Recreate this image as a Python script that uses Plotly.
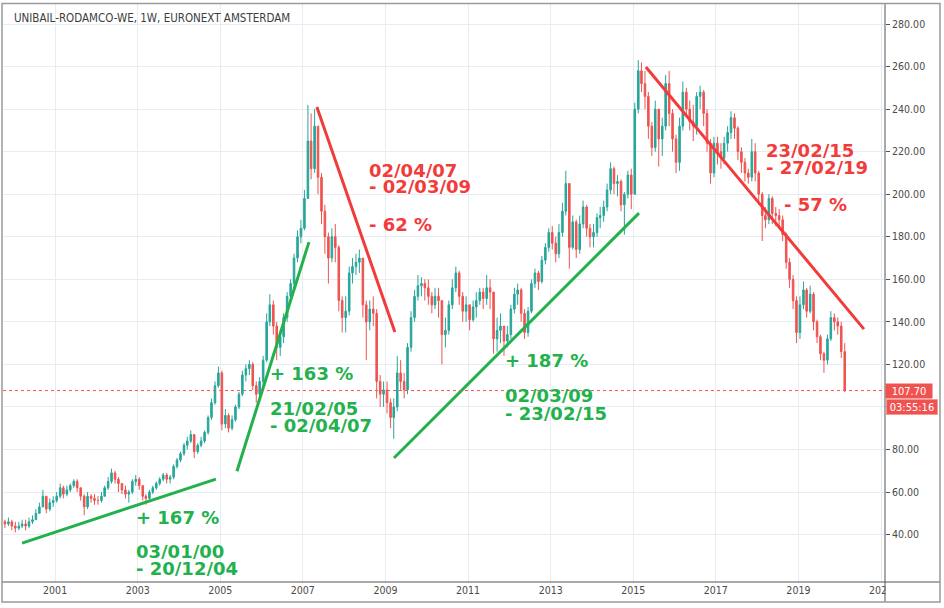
import pandas as pd
import plotly.graph_objects as go

# ---------------- data (monthly) ----------------
first_month = "1999-10-01"
first_open = 46

close = [
    45, 46, 44,
    43, 44, 45, 44, 46, 47, 50, 53, 58, 52, 55, 56,
    58, 62, 59, 61, 63, 65, 62, 58, 53, 58, 57, 56,
    56, 58, 62, 65, 69, 66, 64, 61, 59, 60, 65, 66,
    63, 58, 57, 60, 62, 64, 66, 68, 66, 67, 72, 75,
    78, 82, 84, 87, 79, 82, 84, 88, 95, 102, 110, 116,
    92, 96, 90, 94, 100, 106, 115, 118, 120, 110, 106, 112,
    122, 140, 148, 138, 128, 133, 142, 152, 158, 170, 180, 184,
    198, 225, 212, 232, 208, 192, 180, 170, 180, 175, 150, 142,
    145, 163, 166, 168, 170, 148, 140, 146, 144, 112, 106, 108,
    102, 95, 100, 116, 112, 108, 128, 142, 152, 157, 158, 156,
    152, 148, 152, 150, 134, 136, 148, 156, 163, 152, 145, 148,
    141, 147, 150, 154, 151, 156, 154, 132, 136, 138, 131, 134,
    146, 153, 155, 144, 135, 145, 158, 163, 159, 169, 175, 182,
    177, 172, 182, 192, 205, 175, 187, 174, 186, 194, 184, 180,
    182, 189, 190, 194, 202, 212, 205, 206, 195, 200, 209, 200,
    240, 258, 252, 246, 232, 222, 240, 226, 232, 252, 238, 226,
    215, 232, 248, 240, 234, 232, 246, 248, 238, 224, 210, 224,
    220, 217, 224, 229, 236, 231, 220, 215, 210, 208, 220, 210,
    200, 190, 188, 198, 191, 190, 188, 181, 168, 160, 150, 135,
    148, 155, 145, 153, 140, 133, 125, 122, 132, 142, 140, 138,
    126, 107.7,
]

high = [
    47, 48, 47,
    46, 46, 47, 47, 48, 49, 52, 55, 61, 58, 57, 58,
    60, 64, 63, 63, 64, 66, 66, 62, 59, 60, 59, 59,
    58, 60, 63, 67, 71, 70, 67, 64, 63, 61, 66, 68,
    67, 63, 59, 61, 63, 65, 67, 69, 69, 68, 73, 76,
    79, 83, 86, 89, 86, 83, 86, 89, 96, 104, 112, 119,
    117, 99, 97, 96, 101, 107, 117, 120, 122, 121, 112, 114,
    124, 144, 153, 150, 140, 136, 144, 154, 160, 172, 183, 188,
    202, 242, 238, 240, 230, 210, 195, 182, 184, 186, 176, 152,
    152, 166, 170, 172, 174, 170, 150, 150, 152, 146, 115, 112,
    112, 104, 104, 124, 122, 116, 130, 145, 155, 162, 161, 160,
    160, 154, 156, 156, 150, 142, 150, 160, 166, 164, 154, 152,
    148, 150, 154, 156, 156, 162, 160, 154, 142, 144, 138, 138,
    148, 156, 158, 156, 146, 147, 160, 165, 164, 171, 177, 184,
    185, 180, 186, 196, 211, 200, 190, 188, 190, 197, 195, 186,
    186, 191, 194, 197, 205, 215, 213, 209, 207, 201, 211, 212,
    243, 263, 262, 258, 248, 234, 244, 240, 236, 256, 258, 240,
    228, 236, 253, 250, 244, 242, 248, 251, 249, 240, 226, 227,
    227, 224, 227, 232, 239, 238, 232, 222, 217, 212, 226, 224,
    211, 201, 194, 200, 199, 194, 193, 190, 182, 170, 162, 152,
    152, 159, 156, 157, 154, 141, 134, 126, 134, 145, 144, 142,
    140, 130,
]

low = [
    43, 44, 42,
    41, 42, 43, 42, 43, 45, 47, 50, 53, 50, 51, 53,
    55, 57, 57, 58, 60, 62, 60, 56, 49, 52, 55, 54,
    54, 55, 58, 61, 64, 64, 60, 59, 57, 55, 59, 63,
    61, 56, 54, 56, 59, 61, 63, 65, 64, 64, 66, 71,
    74, 77, 80, 83, 76, 78, 81, 83, 87, 94, 101, 109,
    89, 90, 88, 89, 93, 99, 105, 112, 115, 108, 102, 105,
    110, 121, 138, 134, 122, 124, 130, 140, 150, 156, 168, 177,
    183, 198, 207, 210, 200, 186, 172, 158, 168, 168, 145, 135,
    135, 143, 158, 162, 163, 142, 122, 136, 138, 104, 100, 100,
    97, 90, 85, 98, 108, 104, 106, 126, 140, 150, 152, 150,
    148, 144, 146, 142, 120, 128, 134, 146, 154, 148, 140, 140,
    136, 140, 142, 148, 146, 148, 146, 125, 126, 130, 124, 128,
    132, 144, 148, 140, 132, 133, 144, 156, 155, 158, 167, 173,
    174, 168, 170, 180, 190, 165, 174, 170, 172, 184, 180, 175,
    175, 180, 184, 187, 192, 200, 200, 199, 192, 181, 198, 193,
    200, 238, 248, 240, 226, 218, 220, 213, 218, 230, 232, 220,
    210, 211, 230, 236, 230, 225, 228, 240, 232, 220, 205, 208,
    214, 212, 214, 220, 226, 226, 216, 210, 206, 205, 206, 206,
    195, 178, 184, 186, 186, 185, 184, 178, 165, 156, 146, 130,
    132, 146, 142, 144, 136, 130, 122, 116, 120, 131, 136, 134,
    123, 107,
]

last_price = 107.70
last_price_label = "107.70"
countdown_label = "03:55:16"
title_text = "UNIBAIL-RODAMCO-WE, 1W, EURONEXT AMSTERDAM"

y_ticks = [40, 60, 80, 100, 120, 140, 160, 180, 200, 220, 240, 260, 280]
# 100.00 sits under the countdown label, so its text is not shown
y_tick_labels = ["40.00", "60.00", "80.00", "", "120.00", "140.00", "160.00",
                 "180.00", "200.00", "220.00", "240.00", "260.00", "280.00"]

# trend lines drawn on the chart (start / end)
green_lines = [
    (["2000-03-15", "2004-11-23"], [36.0, 66.1]),
    (["2005-05-28", "2007-02-24"], [69.8, 177.5]),
    (["2009-03-17", "2015-02-21"], [76.0, 191.1]),
]
red_lines = [
    (["2007-05-05", "2009-03-25"], [241.0, 135.2]),
    (["2015-04-23", "2020-08-03"], [259.8, 136.6]),
]

# text notes (text, date, price)
green_notes = [
    ("+ 167 %", "2003-01-04", 48.2),
    ("03/01/00", "2003-01-04", 32.2),
    ("- 20/12/04", "2003-01-04", 24.2),
    ("+ 163 %", "2006-04-03", 115.6),
    ("21/02/05", "2006-04-03", 99.3),
    ("- 02/04/07", "2006-04-03", 91.5),
    ("+ 187 %", "2011-12-08", 121.9),
    ("02/03/09", "2011-12-08", 105.3),
    ("- 23/02/15", "2011-12-08", 97.1),
]
red_notes = [
    ("02/04/07", "2008-08-22", 211.2),
    ("- 02/03/09", "2008-08-22", 203.5),
    ("- 62 %", "2008-08-22", 186.0),
    ("23/02/15", "2018-04-08", 220.6),
    ("- 27/02/19", "2018-04-08", 212.4),
    ("- 57 %", "2018-09-10", 195.1),
]

# ---------------- build ----------------
dates = (pd.date_range(first_month, periods=len(close), freq="MS")
         + pd.Timedelta(days=14)).strftime("%Y-%m-%d").tolist()
opens = [first_open] + close[:-1]
highs = [max(h, o, c) for h, o, c in zip(high, opens, close)]
lows = [min(l, o, c) for l, o, c in zip(low, opens, close)]

UP = "#26a69a"
DOWN = "#ef5350"
GREEN = "#22b14c"
RED = "#f23b3b"
GRID = "#e6ecf2"
AXIS = "#555555"

fig = go.Figure()
fig.add_trace(go.Candlestick(
    x=dates, open=opens, high=highs, low=lows, close=close,
    increasing=dict(line=dict(color=UP, width=1), fillcolor=UP),
    decreasing=dict(line=dict(color=DOWN, width=1), fillcolor=DOWN),
    whiskerwidth=0, hoverinfo="skip", showlegend=False,
))

for xs, ys in green_lines:
    fig.add_trace(go.Scatter(x=xs, y=ys, mode="lines",
                             line=dict(color=GREEN, width=3),
                             hoverinfo="skip", showlegend=False))
for xs, ys in red_lines:
    fig.add_trace(go.Scatter(x=xs, y=ys, mode="lines",
                             line=dict(color=RED, width=3),
                             hoverinfo="skip", showlegend=False))

annotations = []
for color, notes in ((GREEN, green_notes), (RED, red_notes)):
    for text, d, p in notes:
        annotations.append(dict(
            x=d, y=p, xref="x", yref="y", text="<b>%s</b>" % text,
            showarrow=False, xanchor="left", yanchor="middle", xshift=-3,
            height=15, borderpad=0,
            font=dict(family="DejaVu Sans", size=18, color=color),
        ))

annotations.append(dict(
    x=(12 - 3) / 882, y=(582 - 18) / 579, xref="paper", yref="paper",
    text=title_text, showarrow=False, xanchor="left", yanchor="middle",
    font=dict(family="DejaVu Sans Condensed, DejaVu Sans", size=11.5, color="#3d3d3d"),
))
annotations.append(dict(
    x=1.0, y=last_price, xref="paper", yref="y", text=last_price_label,
    showarrow=False, xanchor="left", yanchor="middle",
    bgcolor=DOWN, width=44, height=12, borderpad=1, align="center",
    font=dict(family="DejaVu Sans Condensed, DejaVu Sans", size=11, color="white"),
))
annotations.append(dict(
    x=1.0, y=last_price, xref="paper", yref="y", text=countdown_label,
    showarrow=False, xanchor="left", yanchor="middle", yshift=-16.5, xshift=0.5,
    bgcolor=DOWN, width=49, height=13, borderpad=1, align="center",
    bordercolor="#f7b5b4", borderwidth=0.5,
    font=dict(family="DejaVu Sans Condensed, DejaVu Sans", size=11, color="white"),
))

def px_x(px):
    return (px - 3) / 882

def px_y(py):
    return (582 - py) / 579

shapes = [
    dict(type="line", xref="paper", yref="y", x0=0, x1=1, y0=last_price, y1=last_price,
         line=dict(color=DOWN, width=1, dash="dot"), layer="above"),
    # clip the last x label under the price scale
    dict(type="rect", xref="paper", yref="paper", x0=px_x(885.5), x1=px_x(939),
         y0=px_y(601), y1=px_y(583), fillcolor="white", line=dict(width=0), layer="above"),
    # price-scale axis line
    dict(type="line", xref="paper", yref="paper", x0=px_x(885), x1=px_x(885),
         y0=px_y(3), y1=px_y(602), line=dict(color=AXIS, width=1), layer="above"),
    # time-scale axis line
    dict(type="line", xref="paper", yref="paper", x0=px_x(2), x1=px_x(940),
         y0=px_y(582), y1=px_y(582), line=dict(color=AXIS, width=1), layer="above"),
    # outer frame
    dict(type="rect", xref="paper", yref="paper", x0=px_x(2), x1=px_x(940),
         y0=px_y(602), y1=px_y(3.5), line=dict(color="#9a9a9a", width=1.5), layer="above"),
]

fig.update_layout(
    width=944, height=608,
    margin=dict(l=3, r=59, t=3, b=26),
    paper_bgcolor="white", plot_bgcolor="white",
    showlegend=False,
    annotations=annotations, shapes=shapes,
    xaxis=dict(
        type="date", range=["1999-09-28", "2021-02-05"],
        tick0="2001-01-01", dtick="M24", tickformat="%Y",
        showgrid=True, gridcolor=GRID, gridwidth=1,
        zeroline=False, showline=False, ticks="",
        tickfont=dict(family="DejaVu Sans Condensed, DejaVu Sans", size=10.5, color="#4a4a4a"),
        rangeslider=dict(visible=False), fixedrange=True,
    ),
    yaxis=dict(
        side="right", range=[17.7, 289.9], tickvals=y_ticks, ticktext=y_tick_labels,
        showgrid=True, gridcolor=GRID, gridwidth=1,
        zeroline=False, showline=False,
        ticks="outside", ticklen=4, tickcolor=AXIS,
        tickfont=dict(family="DejaVu Sans Condensed, DejaVu Sans", size=10.5, color="#4a4a4a"),
        fixedrange=True,
    ),
)

fig.write_html("out.html", config={"displayModeBar": False},
               post_script="document.body.style.margin='0';document.body.style.overflow='hidden';")
